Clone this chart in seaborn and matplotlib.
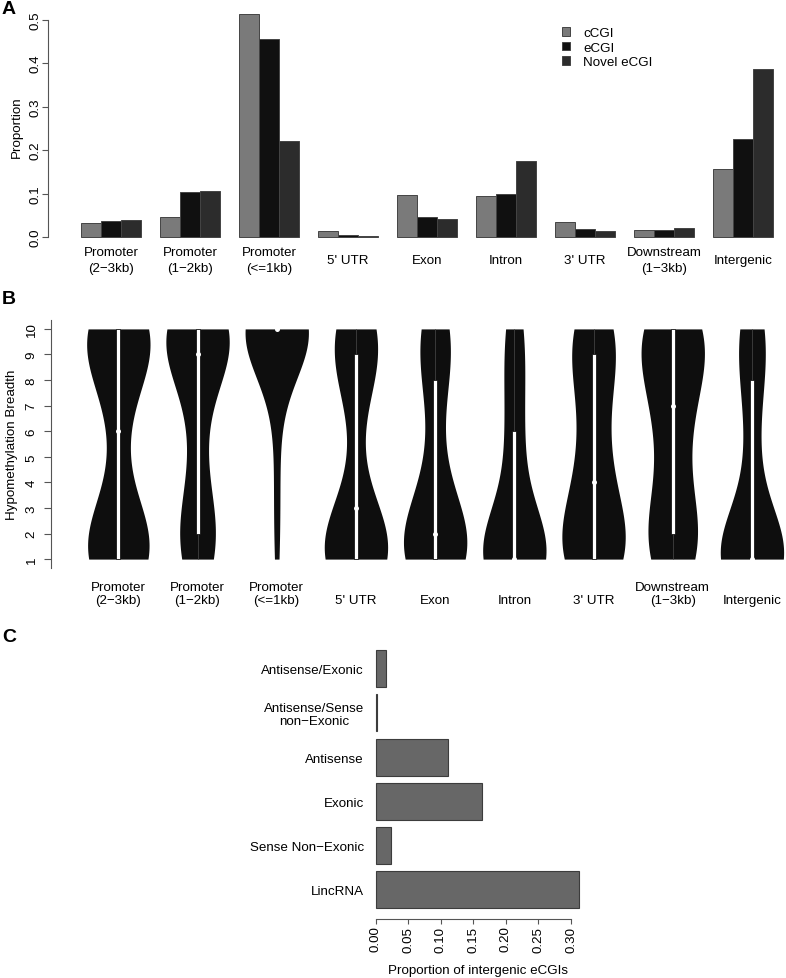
import numpy as np
import pandas as pd
import matplotlib
matplotlib.use("Agg")
import matplotlib.pyplot as plt
import seaborn as sns
from matplotlib.patches import Rectangle

# ---------------- data ----------------
regions = ["Promoter\n(2\u22123kb)", "Promoter\n(1\u22122kb)", "Promoter\n(<=1kb)", "5' UTR",
           "Exon", "Intron", "3' UTR", "Downstream\n(1\u22123kb)", "Intergenic"]
cgi_types = ["cCGI", "eCGI", "Novel eCGI"]
ccgi_prop = [0.032, 0.047, 0.513, 0.013, 0.096, 0.094, 0.034, 0.017, 0.157]
ecgi_prop = [0.037, 0.103, 0.455, 0.005, 0.047, 0.099, 0.018, 0.017, 0.226]
novel_prop = [0.040, 0.106, 0.220, 0.003, 0.042, 0.174, 0.014, 0.021, 0.386]

# Panel B: number of eCGIs at each hypomethylation breadth (1..10), per region
breadth_levels = [1, 2, 3, 4, 5, 6, 7, 8, 9, 10]
counts_prom_2_3kb = [27, 12, 5, 2, 1, 3, 3, 6, 12, 27]
counts_prom_1_2kb = [12, 14, 5, 3, 3, 3, 3, 5, 16, 36]
counts_prom_1kb = [8, 6, 6, 6, 6, 3, 6, 12, 20, 225]
counts_utr5 = [34, 12, 6, 2, 1, 1, 2, 8, 10, 18]
counts_exon = [33, 19, 7, 5, 3, 2, 2, 7, 7, 15]
counts_intron = [52, 9, 5, 4, 4, 6, 4, 4, 5, 10]
counts_utr3 = [27, 12, 8, 7, 5, 5, 4, 6, 10, 16]
counts_downstream = [16, 12, 6, 5, 4, 5, 8, 9, 9, 26]
counts_intergenic = [51, 7, 4, 3, 3, 3, 3, 6, 6, 14]

# Panel C
intergenic_classes = ["Antisense/Exonic", "Antisense/Sense\nnon\u2212Exonic", "Antisense",
                      "Exonic", "Sense Non\u2212Exonic", "LincRNA"]
intergenic_props = [0.016, 0.002, 0.111, 0.164, 0.024, 0.313]

# ---------------- style ----------------
sns.set_theme(style="white")
plt.rcParams["font.family"] = ["Liberation Sans", "DejaVu Sans"]
plt.rcParams["font.size"] = 9.5
for key in ["text.color", "axes.labelcolor", "xtick.labelcolor", "ytick.labelcolor"]:
    plt.rcParams[key] = "black"
FS = 9.6
AX_COLOR = "#555555"

W, H = 786, 979
fig = plt.figure(figsize=(W / 100, H / 100), dpi=100)


def px_axes(left, top, right, bottom):
    return fig.add_axes([left / W, 1 - bottom / H, (right - left) / W, (bottom - top) / H])


# ---------------- Panel A ----------------
axA = px_axes(48, 7.7, 786, 246.7)
dfA = pd.DataFrame({
    "region": np.tile(regions, len(cgi_types)),
    "type": np.repeat(cgi_types, len(regions)),
    "prop": np.concatenate([ccgi_prop, ecgi_prop, novel_prop]),
})
sns.barplot(data=dfA, x="region", y="prop", hue="type", order=regions, hue_order=cgi_types,
            palette=["#7a7a7a", "#101010", "#2c2c2c"], saturation=1, width=0.76,
            edgecolor="#444444", linewidth=0.7, errorbar=None, ax=axA)
axA.set_xlim(-0.797, 8.544)
axA.set_ylim(-0.02, 0.53)
axA.set_xlabel("")
axA.set_ylabel("Proportion", fontsize=FS, va="center", color="black")
axA.yaxis.set_label_coords((17 - 48) / 738, 0.5)
axA.set_yticks([0.0, 0.1, 0.2, 0.3, 0.4, 0.5])
axA.set_yticklabels(["0.0", "0.1", "0.2", "0.3", "0.4", "0.5"], rotation=90, va="center",
                    fontsize=FS, color="black")
axA.set_xticks(range(len(regions)), labels=regions, va="center", ha="center",
               multialignment="center", linespacing=1.4, fontsize=FS, color="black")
axA.tick_params(axis="x", length=0, pad=10.3)
axA.tick_params(axis="y", length=4, width=0.8, color=AX_COLOR, pad=0.8, left=True)
for s in ["top", "right", "bottom"]:
    axA.spines[s].set_visible(False)
axA.spines["left"].set_bounds(0, 0.5)
axA.spines["left"].set_color(AX_COLOR)
axA.spines["left"].set_linewidth(0.8)
handles, labels = axA.get_legend_handles_labels()
leg = axA.legend(handles, labels, loc="upper left",
                 bbox_to_anchor=((562 - 48) / 738, (246.7 - 28) / 239),
                 frameon=False, fontsize=FS, handlelength=0.6, handleheight=0.6, handletextpad=1.0,
                 labelspacing=0.2, borderpad=0, borderaxespad=0)
for t in leg.get_texts():
    t.set_color("black")

# ---------------- Panel B ----------------
axB = px_axes(50.7, 320.7, 786, 569.3)
region_col, breadth_col = [], []
for name, counts in zip(regions, [counts_prom_2_3kb, counts_prom_1_2kb, counts_prom_1kb, counts_utr5,
                                  counts_exon, counts_intron, counts_utr3, counts_downstream,
                                  counts_intergenic]):
    vals = np.repeat(breadth_levels, counts)
    region_col += [name] * len(vals)
    breadth_col += list(vals)
dfB = pd.DataFrame({"region": region_col, "breadth": np.array(breadth_col, dtype=float)})

KDE_H = 1.75  # smoothing bandwidth in breadth units


def fixed_bandwidth(kde):
    return KDE_H / np.std(kde.dataset, ddof=1)


sns.violinplot(data=dfB, x="region", y="breadth", order=regions, color="#0e0e0e", saturation=1,
               inner=None, cut=0, density_norm="width", width=0.8, linewidth=0,
               bw_method=fixed_bandwidth, ax=axB)
box_w = 0.05
for i, name in enumerate(regions):
    vals = dfB.loc[dfB["region"] == name, "breadth"].to_numpy()
    q1, med, q3 = np.percentile(vals, [25, 50, 75])
    iqr = q3 - q1
    lo = max(q1 - 1.5 * iqr, vals.min())
    hi = min(q3 + 1.5 * iqr, vals.max())
    axB.vlines(i, lo, hi, color="#3a3a3a", lw=0.7, zorder=3)
    axB.add_patch(Rectangle((i - box_w / 2, q1), box_w, q3 - q1, facecolor="white",
                            edgecolor="black", lw=0.5, zorder=4))
    axB.plot([i], [med], "o", color="white", ms=3.6, mew=0, zorder=5)

axB.set_xlim(-0.854, 8.43)
axB.set_ylim(0.64, 10.36)
axB.set_xlabel("")
axB.set_ylabel("Hypomethylation Breadth", fontsize=FS, va="center", color="black")
axB.yaxis.set_label_coords((12 - 50.7) / 735.3, 0.5)
axB.set_yticks(range(1, 11))
axB.set_yticklabels([str(v) for v in range(1, 11)], rotation=90, va="center", fontsize=FS,
                    color="black")
axB.set_xticks(range(len(regions)), labels=regions, va="bottom", ha="center",
               multialignment="center", linespacing=1.1, fontsize=FS, color="black")
axB.tick_params(axis="x", length=0, pad=27)
axB.tick_params(axis="y", length=4.8, width=0.8, color=AX_COLOR, pad=4.5, left=True)
for s in ["top", "right", "bottom"]:
    axB.spines[s].set_visible(False)
axB.spines["left"].set_color(AX_COLOR)
axB.spines["left"].set_linewidth(0.8)

# ---------------- Panel C ----------------
axC = px_axes(367.6, 641.3, 587.6, 919.5)
sns.barplot(x=intergenic_props, y=intergenic_classes, orient="h", color="#676767", saturation=1,
            width=0.834, edgecolor="#3c3c3c", linewidth=0.8, errorbar=None, ax=axC)
axC.set_xlim(-0.0125, 0.3255)
axC.set_ylim(5.652, -0.643)
axC.set_xticks([0.0, 0.05, 0.10, 0.15, 0.20, 0.25, 0.30])
axC.set_xticklabels(["0.00", "0.05", "0.10", "0.15", "0.20", "0.25", "0.30"], rotation=90,
                    fontsize=FS, color="black")
axC.set_yticks(range(len(intergenic_classes)), labels=intergenic_classes, ha="right",
               multialignment="center", linespacing=1.1, fontsize=FS, color="black")
axC.tick_params(axis="y", length=0, pad=2.6)
axC.tick_params(axis="x", length=3.6, width=0.8, color=AX_COLOR, pad=1.5, bottom=True)
axC.set_xlabel("Proportion of intergenic eCGIs", fontsize=FS, color="black")
axC.xaxis.set_label_coords(0.5, -(971 - 919.5) / 278.2)
axC.xaxis.label.set_va("center")
axC.set_ylabel("")
for s in ["top", "right", "left"]:
    axC.spines[s].set_visible(False)
axC.spines["bottom"].set_bounds(0, 0.30)
axC.spines["bottom"].set_color(AX_COLOR)
axC.spines["bottom"].set_linewidth(0.8)

# ---------------- panel letters ----------------
for letter, top in [("A", 0.5), ("B", 291.5), ("C", 628.5)]:
    fig.text(2 / W, 1 - top / H, letter, fontsize=14, fontweight="bold", ha="left", va="top",
             color="black")

fig.savefig("out.png", dpi=100)
